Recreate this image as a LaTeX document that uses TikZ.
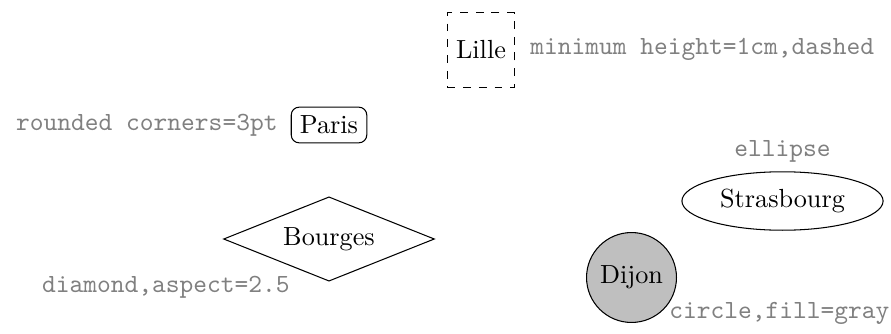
\documentclass[tikz,border=0pt]{standalone}
\usetikzlibrary{shapes.geometric}
\begin{document}
\begin{tikzpicture}[x=0.3817pt, y=-0.3817pt,
  city/.style={draw},
  lab/.style={text=gray, font=\ttfamily}]
\useasboundingbox (0,0) rectangle (891,333);
% cities
\node[city, dashed, minimum height=1cm] (lille) at (481,50) {Lille};
\node[city, rounded corners=3pt] (paris) at (329,125) {Paris};
\node[city, diamond, aspect=2.5] (bourges) at (329,239) {Bourges};
\node[city, ellipse] (strasbourg) at (782.5,201) {Strasbourg};
\node[city, circle, fill=gray!50] (dijon) at (631.5,277.5) {Dijon};
% labels
\node[lab, anchor=base west] (lillelab) at (521,55) {minimum height=1cm,dashed};
\node[lab, anchor=east] (parislab) at ([xshift=-1.5pt]paris.west) {rounded corners=3pt};
\node[lab, anchor=base east] (bourgeslab) at (299,292) {diamond,aspect=2.5};
\node[lab, anchor=south] (strasbourglab) at (strasbourg.north) {ellipse};
\node[lab, anchor=base west] (dijonlab) at (660,318) {circle,fill=gray};
\end{tikzpicture}
\end{document}
